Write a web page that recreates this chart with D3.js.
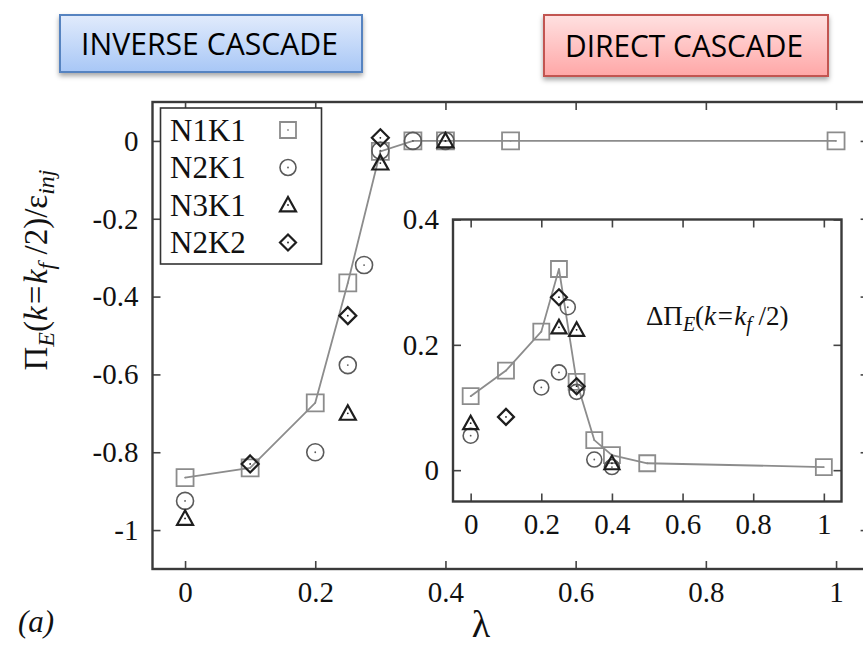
<!DOCTYPE html>
<html>
<head>
<meta charset="utf-8">
<script src="https://cdn.jsdelivr.net/npm/d3@7"></script>
<style>
	html, body { margin: 0; padding: 0; background: #fff; }
	svg { display: block; }
</style>
</head>
<body>
<div id="chartDIV"></div>
<script>
// 데이터
const lambdaN1K1 = [0, 0.1, 0.2, 0.25, 0.3, 0.35, 0.4, 0.5, 1];
const lambdaN2K1 = [0, 0.2, 0.25, 0.275, 0.3, 0.35, 0.4];
const lambdaN3K1 = [0, 0.25, 0.3, 0.4];
const lambdaN2K2 = [0.1, 0.25, 0.3];

// 본 그림: Pi_E(k=kf/2)/eps_inj
const fluxN1K1 = [-0.865, -0.84, -0.673, -0.365, -0.027, 0, 0, 0, 0];
const fluxN2K1 = [-0.925, -0.8, -0.576, -0.319, -0.025, 0, 0];
const fluxN3K1 = [-0.97, -0.7, -0.057, 0];
const fluxN2K2 = [-0.83, -0.449, 0.008];

// 삽입 그림: Delta Pi_E
const deltaN1K1 = [0.118, 0.159, 0.221, 0.321, 0.141, 0.048, 0.024, 0.011, 0.005];
const deltaN2K1 = [0.055, 0.132, 0.156, 0.26, 0.125, 0.017, 0.005];
const deltaN3K1 = [0.075, 0.228, 0.224, 0.011];
const deltaN2K2 = [0.085, 0.276, 0.134];

const seriesNames = ["N1K1", "N2K1", "N3K1", "N2K2"];
const mainTicksX = [0, 0.2, 0.4, 0.6, 0.8, 1];
const mainTicksY = [0, -0.2, -0.4, -0.6, -0.8, -1];
const insetTicksY = [0, 0.2, 0.4];

const svgWidth = 863;
const svgHeight = 646;
const SERIF = "Liberation Serif, DejaVu Serif, Noto Serif, serif";

const svg = d3.select("#chartDIV")
	.append("svg")
	.attr("width", svgWidth)
	.attr("height", svgHeight)
	.attr("font-family", SERIF);

const fmt = (d) => String(+d.toFixed(1));

// 마커 모양
const markerStyle = {
	N1K1: { stroke: "#8c8c8c", width: 1.8 },
	N2K1: { stroke: "#5a5a5a", width: 1.6 },
	N3K1: { stroke: "#1e1e1e", width: 2.2 },
	N2K2: { stroke: "#1e1e1e", width: 2.2 }
};

function markerPath(name, s) {
	const h = s / 2;
	if (name === "N1K1") return `M${-h},${-h}H${h}V${h}H${-h}Z`;
	if (name === "N2K1") return `M${h},0A${h},${h} 0 1,1 ${-h},0A${h},${h} 0 1,1 ${h},0Z`;
	if (name === "N3K1") return `M0,${-h}L${h},${h * 0.8}H${-h}Z`;
	return `M0,${-h}L${h},0L0,${h}L${-h},0Z`;
}

function drawMarkers(g, name, xs, ys, xScale, yScale, size) {
	const data = xs.map((x, i) => ({ x: x, y: ys[i] }));
	const st = markerStyle[name];
	const grp = g.append("g").attr("class", "series-" + name);
	grp.selectAll("path")
		.data(data)
		.enter()
		.append("path")
		.attr("transform", (d) => `translate(${xScale(d.x)},${yScale(d.y)})`)
		.attr("d", markerPath(name, size))
		.attr("fill", "none")
		.attr("stroke", st.stroke)
		.attr("stroke-width", st.width);
	// 가운데 점
	grp.selectAll("circle")
		.data(data)
		.enter()
		.append("circle")
		.attr("cx", (d) => xScale(d.x))
		.attr("cy", (d) => yScale(d.y))
		.attr("r", 0.9)
		.attr("fill", st.stroke);
}

function drawFrame(g, xScale, yScale, tick, ticksX, ticksY, fontSize) {
	const [x0, x1] = xScale.range();
	const [y0, y1] = yScale.range();
	const axes = [
		{ ax: d3.axisBottom(xScale).tickValues(ticksX), t: `translate(0,${y0})`, lab: true, pad: 12 },
		{ ax: d3.axisTop(xScale).tickValues(ticksX), t: `translate(0,${y1})`, lab: false, pad: 3 },
		{ ax: d3.axisLeft(yScale).tickValues(ticksY), t: `translate(${x0},0)`, lab: true, pad: 14 },
		{ ax: d3.axisRight(yScale).tickValues(ticksY), t: `translate(${x1},0)`, lab: false, pad: 3 }
	];
	axes.forEach((a) => {
		a.ax.tickSizeInner(-tick).tickSizeOuter(0).tickPadding(a.pad)
			.tickFormat(a.lab ? fmt : "");
		const ag = g.append("g").attr("transform", a.t).call(a.ax);
		ag.attr("font-family", SERIF).attr("font-size", fontSize);
		ag.select(".domain").remove();
		ag.selectAll("line").attr("stroke", "#444").attr("stroke-width", 1.6);
		ag.selectAll("text").attr("fill", "#111");
	});
	g.append("rect")
		.attr("x", x0).attr("y", y1)
		.attr("width", x1 - x0).attr("height", y0 - y1)
		.attr("fill", "none")
		.attr("stroke", "#3a3a3a")
		.attr("stroke-width", 2.4);
}

// 본 그림 스케일
const xMain = d3.scaleLinear().domain([-0.05, 1.05]).range([152.5, 868.6]);
const yMain = d3.scaleLinear().domain([-1.1, 0.1]).range([569, 102]);

const mainG = svg.append("g");
drawFrame(mainG, xMain, yMain, 8, mainTicksX, mainTicksY, 29);

// N1K1 연결선
const line = d3.line().x((d) => d[0]).y((d) => d[1]);
mainG.append("path")
	.attr("d", line(lambdaN1K1.map((x, i) => [xMain(x), yMain(fluxN1K1[i])])))
	.attr("fill", "none")
	.attr("stroke", "#8c8c8c")
	.attr("stroke-width", 1.8);

drawMarkers(mainG, "N1K1", lambdaN1K1, fluxN1K1, xMain, yMain, 17);
drawMarkers(mainG, "N2K1", lambdaN2K1, fluxN2K1, xMain, yMain, 17);
drawMarkers(mainG, "N3K1", lambdaN3K1, fluxN3K1, xMain, yMain, 16);
drawMarkers(mainG, "N2K2", lambdaN2K2, fluxN2K2, xMain, yMain, 17);

// 범례
const legend = svg.append("g");
legend.append("rect")
	.attr("x", 160.5).attr("y", 108)
	.attr("width", 161).attr("height", 156)
	.attr("fill", "#fff")
	.attr("stroke", "#333")
	.attr("stroke-width", 1.6);
seriesNames.forEach((name, i) => {
	const cy = 130 + i * 37.5;
	legend.append("text")
		.attr("x", 170)
		.attr("y", cy + 10.5)
		.attr("font-size", 31)
		.attr("fill", "#111")
		.text(name);
	const sc = d3.scaleLinear().domain([0, 1]).range([288, 289]);
	drawMarkers(legend, name, [0], [cy], sc, (v) => v, 16);
});

// 삽입 그림
const xInset = d3.scaleLinear().domain([-0.05, 1.05]).range([453, 841.5]);
const yInset = d3.scaleLinear().domain([-0.05, 0.4]).range([501.5, 219.5]);

const insetG = svg.append("g");
insetG.append("rect")
	.attr("x", 453).attr("y", 219.5)
	.attr("width", 388.5).attr("height", 282)
	.attr("fill", "#fff");
drawFrame(insetG, xInset, yInset, 8, mainTicksX, insetTicksY, 29);

insetG.append("path")
	.attr("d", line(lambdaN1K1.map((x, i) => [xInset(x), yInset(deltaN1K1[i])])))
	.attr("fill", "none")
	.attr("stroke", "#8c8c8c")
	.attr("stroke-width", 1.8);

drawMarkers(insetG, "N1K1", lambdaN1K1, deltaN1K1, xInset, yInset, 16);
drawMarkers(insetG, "N2K1", lambdaN2K1, deltaN2K1, xInset, yInset, 15);
drawMarkers(insetG, "N3K1", lambdaN3K1, deltaN3K1, xInset, yInset, 15);
drawMarkers(insetG, "N2K2", lambdaN2K2, deltaN2K2, xInset, yInset, 16);

// 삽입 그림 라벨
const insetLabel = insetG.append("text")
	.attr("x", 646)
	.attr("y", 325)
	.attr("font-size", 27)
	.attr("fill", "#111");
insetLabel.append("tspan").text("ΔΠ");
insetLabel.append("tspan").attr("font-style", "italic").attr("font-size", 20).attr("dy", 6).text("E");
insetLabel.append("tspan").attr("dy", -6).text("(");
insetLabel.append("tspan").attr("font-style", "italic").text("k=k");
insetLabel.append("tspan").attr("font-style", "italic").attr("font-size", 20).attr("dy", 6).text("f");
insetLabel.append("tspan").attr("dy", -6).text(" /2)");

// 축 제목
const yLabel = svg.append("text")
	.attr("transform", "translate(47,270) rotate(-90)")
	.attr("text-anchor", "middle")
	.attr("font-size", 33)
	.attr("fill", "#111");
yLabel.append("tspan").text("Π");
yLabel.append("tspan").attr("font-style", "italic").attr("font-size", 24).attr("dy", 7).text("E");
yLabel.append("tspan").attr("dy", -7).text("(");
yLabel.append("tspan").attr("font-style", "italic").text("k=k");
yLabel.append("tspan").attr("font-style", "italic").attr("font-size", 24).attr("dy", 7).text("f");
yLabel.append("tspan").attr("dy", -7).text(" /2)/ε");
yLabel.append("tspan").attr("font-style", "italic").attr("font-size", 24).attr("dy", 7).text("inj");

svg.append("text")
	.attr("x", 481)
	.attr("y", 637)
	.attr("text-anchor", "middle")
	.attr("font-size", 38)
	.attr("fill", "#111")
	.text("λ");

svg.append("text")
	.attr("x", 18)
	.attr("y", 632)
	.attr("font-size", 31)
	.attr("font-style", "italic")
	.attr("fill", "#111")
	.text("(a)");

// 위쪽 박스
const defs = svg.append("defs");
function gradient(id, top, bottom) {
	const gr = defs.append("linearGradient").attr("id", id)
		.attr("x1", 0).attr("y1", 0).attr("x2", 0).attr("y2", 1);
	gr.append("stop").attr("offset", "0%").attr("stop-color", top);
	gr.append("stop").attr("offset", "100%").attr("stop-color", bottom);
}
gradient("blueGrad", "#e1ebfc", "#a8c7f6");
gradient("redGrad", "#ffe1e1", "#ffa7a7");
const shadow = defs.append("filter").attr("id", "shadow")
	.attr("x", "-10%").attr("y", "-20%").attr("width", "120%").attr("height", "160%");
shadow.append("feDropShadow")
	.attr("dx", 0).attr("dy", 3).attr("stdDeviation", 2.5)
	.attr("flood-color", "#000").attr("flood-opacity", 0.35);

const boxes = [
	{ x: 60, y: 15, w: 302, h: 57, fill: "url(#blueGrad)", stroke: "#5683c0", text: "INVERSE CASCADE", tx: 81, tw: 257 },
	{ x: 544, y: 15, w: 284, h: 61, fill: "url(#redGrad)", stroke: "#c25451", text: "DIRECT CASCADE", tx: 565, tw: 238 }
];
boxes.forEach((b) => {
	svg.append("rect")
		.attr("x", b.x).attr("y", b.y)
		.attr("width", b.w).attr("height", b.h)
		.attr("fill", b.fill)
		.attr("stroke", b.stroke)
		.attr("stroke-width", 2)
		.attr("filter", "url(#shadow)");
	svg.append("text")
		.attr("x", b.tx)
		.attr("y", b.y + b.h / 2 + 11)
		.attr("font-family", "Liberation Sans Narrow, Open Sans, sans-serif")
		.attr("font-size", 31)
		.attr("textLength", b.tw)
		.attr("lengthAdjust", "spacingAndGlyphs")
		.attr("fill", "#000")
		.text(b.text);
});
</script>
</body>
</html>
